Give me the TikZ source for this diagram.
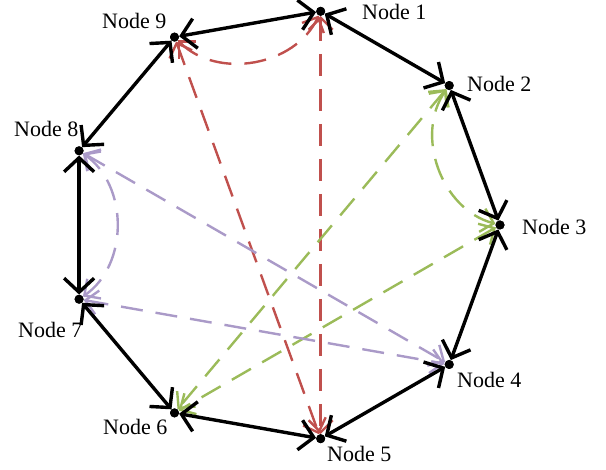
\documentclass[tikz,border=0pt]{standalone}
\usepackage{fontspec}
\setmainfont{Liberation Serif}
\usetikzlibrary{arrows.meta,calc}
\definecolor{cred}{RGB}{192,80,77}
\definecolor{cgreen}{RGB}{155,187,89}
\definecolor{cpurple}{RGB}{170,154,200}
\tikzset{
  dot/.style={circle,fill=black,inner sep=0pt,minimum size=9pt},
  lab/.style={anchor=base west,inner sep=0pt,font=\fontsize{22}{26}\selectfont},
  ring/.style={draw=black,line width=3.4pt,{Straight Barb[length=14pt,width=30pt,line width=3.4pt]}-{Straight Barb[length=14pt,width=30pt,line width=3.4pt]}},
  chord/.style={line width=2.4pt,dash pattern=on 22pt off 13pt,{Straight Barb[length=12pt,width=24pt,line width=2.4pt]}-{Straight Barb[length=12pt,width=24pt,line width=2.4pt]}},
}
\begin{document}
\begin{tikzpicture}[x=1pt,y=1pt]
\useasboundingbox (0,0) rectangle (606,-470);
\coordinate (c) at (283,-225);
\foreach \i/\a in {1/80,2/40,3/0,4/-40,5/-80,6/-120,7/-160,8/160,9/120}{
  \node[dot] (n\i) at ($(c)+(\a:217)$) {};
}
% dashed chords
\draw[chord,cred] (n9) to[bend right=55] (n1);
\draw[chord,cred] (n9) -- (n5);
\draw[chord,cred] (n1) -- (n5);
\draw[chord,cgreen] (n2) to[bend right=55] (n3);
\draw[chord,cgreen] (n2) -- (n6);
\draw[chord,cgreen] (n3) -- (n6);
\draw[chord,cpurple] (n7) to[bend right=55] (n8);
\draw[chord,cpurple] (n8) -- (n4);
\draw[chord,cpurple] (n7) -- (n4);
% ring
\draw[ring] (n1) -- (n2);
\draw[ring] (n2) -- (n3);
\draw[ring] (n3) -- (n4);
\draw[ring] (n4) -- (n5);
\draw[ring] (n5) -- (n6);
\draw[ring] (n6) -- (n7);
\draw[ring] (n7) -- (n8);
\draw[ring] (n8) -- (n9);
\draw[ring] (n9) -- (n1);
% redraw dots on top
\foreach \i in {1,...,9}{ \fill (n\i) circle (4.5pt); }
% labels
\node[lab] (l1) at (362,-20) {Node 1};
\node[lab] (l2) at (467,-92) {Node 2};
\node[lab] (l3) at (522,-235) {Node 3};
\node[lab] (l4) at (457,-388) {Node 4};
\node[lab] (l5) at (327,-462) {Node 5};
\node[lab] (l6) at (103,-435) {Node 6};
\node[lab] (l7) at (18,-338) {Node 7};
\node[lab] (l8) at (14,-137) {Node 8};
\node[lab] (l9) at (102,-29) {Node 9};
\end{tikzpicture}
\end{document}
